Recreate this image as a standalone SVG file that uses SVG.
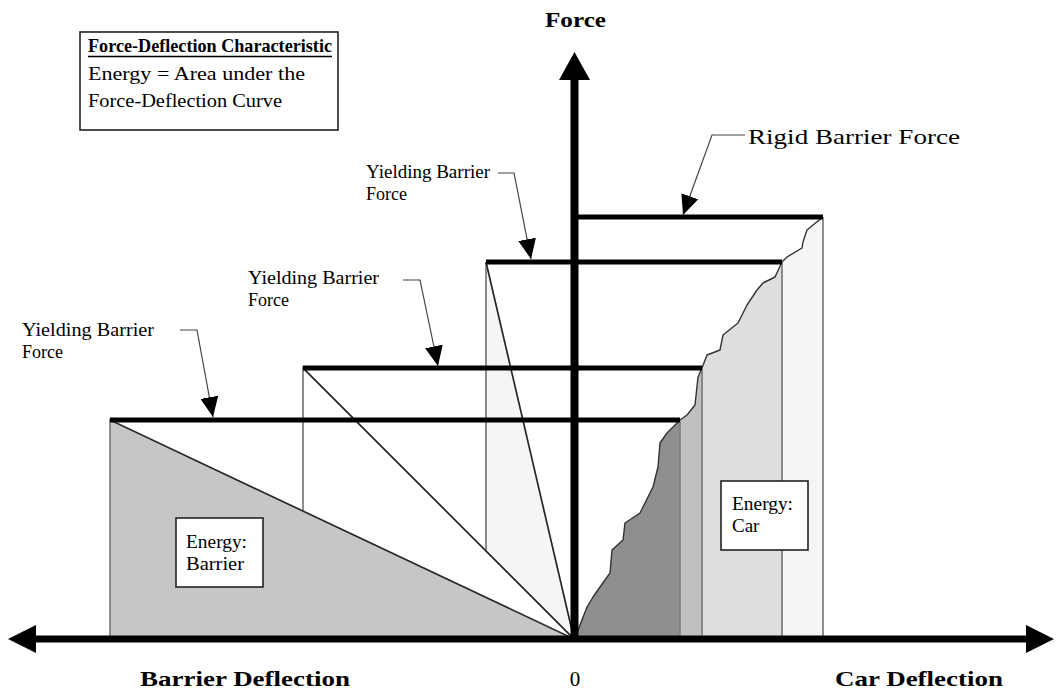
<svg xmlns="http://www.w3.org/2000/svg" width="1056" height="690" viewBox="0 0 1056 690">
<style>
text{font-family:"Liberation Serif","Times New Roman",serif;fill:#000}
.b{font-weight:bold}
.lbl{font-size:18px}
.big{font-size:22px}
.bar{stroke:#000;stroke-width:5;fill:none}
.edge{stroke:#808080;stroke-width:1.8}
.diag{stroke:#222;stroke-width:1.3;fill:none}
.lead{stroke:#444;stroke-width:1.2;fill:none}
.box{fill:#fff;stroke:#222;stroke-width:1.6}
.curve{fill:none;stroke:#333;stroke-width:1.4;stroke-linejoin:round}
</style>
<defs>
<marker id="ah" viewBox="0 0 20 18" refX="20" refY="9" markerWidth="20" markerHeight="18" markerUnits="userSpaceOnUse" orient="auto">
<path d="M0,0 L20,9 L0,18 z" fill="#000"/>
</marker>
</defs>
<rect width="1056" height="690" fill="#fff"/>

<g id="barrier-regions">
<polygon class="edge" points="486,262 486,639 574,639" fill="#f5f5f5"/>
<polygon class="edge" points="303,368 303,639 574,639" fill="#fff"/>
<polygon class="edge" points="110,420 110,639 574,639" fill="#c6c6c6"/>
<line class="diag" x1="110" y1="420" x2="574" y2="639"/>
<line class="diag" x1="303" y1="368" x2="574" y2="639" stroke="#555"/>
<line class="diag" x1="486" y1="262" x2="574" y2="639"/>
</g>

<g id="car-regions">
<polygon fill="#f5f5f5" points="575,639 580,625 587,607 593,597 600,587 610,573 612,550 623,540 625,523 640,513 653,487 658,467 660,443 667,433 680,420 687,415 695,405 698,377 702,368 707,355 720,350 723,335 738,323 743,313 747,305 757,290 763,283 775,277 782,262 787,257 802,248 803,242 807,230 813,225 823,217 823,639"/>
<polygon fill="#dedede" points="575,639 580,625 587,607 593,597 600,587 610,573 612,550 623,540 625,523 640,513 653,487 658,467 660,443 667,433 680,420 687,415 695,405 698,377 702,368 707,355 720,350 723,335 738,323 743,313 747,305 757,290 763,283 775,277 782,262 782,639"/>
<polygon fill="#c0c0c0" points="575,639 580,625 587,607 593,597 600,587 610,573 612,550 623,540 625,523 640,513 653,487 658,467 660,443 667,433 680,420 687,415 695,405 698,377 702,368 702,639"/>
<polygon fill="#8e8e8e" points="575,639 580,625 587,607 593,597 600,587 610,573 612,550 623,540 625,523 640,513 653,487 658,467 660,443 667,433 680,420 680,639"/>
<polyline class="curve" points="575,639 580,625 587,607 593,597 600,587 610,573 612,550 623,540 625,523 640,513 653,487 658,467 660,443 667,433 680,420 687,415 695,405 698,377 702,368 707,355 720,350 723,335 738,323 743,313 747,305 757,290 763,283 775,277 782,262 787,257 802,248 803,242 807,230 813,225 823,217"/>
<line class="edge" x1="680" y1="420" x2="680" y2="639"/>
<line class="edge" x1="702" y1="368" x2="702" y2="639"/>
<line class="edge" x1="782" y1="262" x2="782" y2="639"/>
<line class="edge" x1="823" y1="217" x2="823" y2="639"/>
</g>

<g id="force-levels">
<line class="bar" x1="110" y1="420" x2="680" y2="420"/>
<line class="bar" x1="303" y1="368" x2="702" y2="368"/>
<line class="bar" x1="486" y1="262" x2="782" y2="262"/>
<line class="bar" x1="574" y1="217" x2="823" y2="217" stroke-width="4"/>
</g>

<g id="axes">
<line x1="30" y1="639" x2="1030" y2="639" stroke="#000" stroke-width="7"/>
<polygon points="8,639 36,625 36,653" fill="#000"/>
<polygon points="1054,639 1026,625 1026,653" fill="#000"/>
<line x1="574.5" y1="639" x2="574.5" y2="76" stroke="#000" stroke-width="8"/>
<polygon points="574.5,52 559,80 590,80" fill="#000"/>
</g>

<g id="connectors">
<path class="lead" d="M180,330 L197,330 L213,417" marker-end="url(#ah)"/>
<path class="lead" d="M403,280 L420,280 L438,366" marker-end="url(#ah)"/>
<path class="lead" d="M498,173 L514,173 L531,259" marker-end="url(#ah)"/>
<path class="lead" d="M745,135 L712,135 L683,215" marker-end="url(#ah)"/>
</g>

<g id="title-box">
<rect class="box" x="80" y="32" width="258" height="98"/>
<text x="88" y="52" class="b" font-size="19" textLength="244" lengthAdjust="spacingAndGlyphs">Force-Deflection Characteristic</text>
<line x1="88" y1="56.5" x2="332" y2="56.5" stroke="#000" stroke-width="1.5"/>
<text x="88" y="80" font-size="19" textLength="217" lengthAdjust="spacingAndGlyphs">Energy = Area under the</text>
<text x="88" y="107" font-size="19" textLength="194" lengthAdjust="spacingAndGlyphs">Force-Deflection Curve</text>
</g>

<g id="label-force"><text x="545" y="27" class="b big" textLength="61" lengthAdjust="spacingAndGlyphs">Force</text></g>
<g id="label-rigid"><text x="748" y="144" font-size="21" textLength="212" lengthAdjust="spacingAndGlyphs">Rigid Barrier Force</text></g>
<g id="label-yield-top"><text x="366" y="178" class="lbl" textLength="124" lengthAdjust="spacingAndGlyphs">Yielding Barrier</text><text x="366" y="200" class="lbl">Force</text></g>
<g id="label-yield-mid"><text x="248" y="284" class="lbl" textLength="131" lengthAdjust="spacingAndGlyphs">Yielding Barrier</text><text x="248" y="306" class="lbl">Force</text></g>
<g id="label-yield-left"><text x="22" y="336" class="lbl" textLength="132" lengthAdjust="spacingAndGlyphs">Yielding Barrier</text><text x="22" y="358" class="lbl">Force</text></g>

<g id="energy-barrier">
<rect class="box" x="176" y="518" width="87" height="69"/>
<text x="186" y="548" font-size="19" textLength="61" lengthAdjust="spacingAndGlyphs">Energy:</text>
<text x="186" y="570" font-size="19" textLength="58" lengthAdjust="spacingAndGlyphs">Barrier</text>
</g>
<g id="energy-car">
<rect class="box" x="721" y="481" width="87" height="69"/>
<text x="732" y="510" font-size="19" textLength="61" lengthAdjust="spacingAndGlyphs">Energy:</text>
<text x="732" y="532" font-size="19">Car</text>
</g>

<g id="axis-labels">
<text x="140" y="686" class="b big" textLength="210" lengthAdjust="spacingAndGlyphs">Barrier Deflection</text>
<text x="575" y="686" font-size="21" text-anchor="middle">0</text>
<text x="835" y="686" class="b big" textLength="168" lengthAdjust="spacingAndGlyphs">Car Deflection</text>
</g>
</svg>
